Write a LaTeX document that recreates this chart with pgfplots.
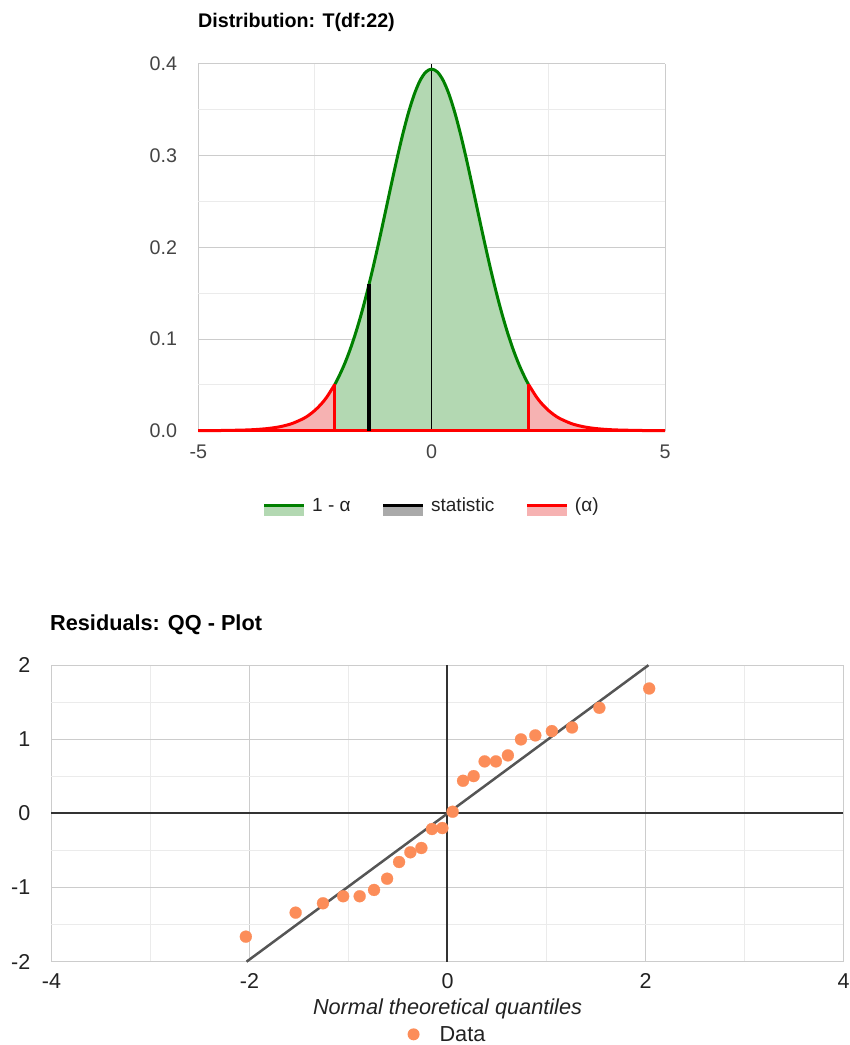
\documentclass[border=0pt]{standalone}
\usepackage{fontspec}
\setmainfont{Liberation Sans}
\usepackage{pgfplots}
\pgfplotsset{compat=1.18}
\definecolor{gline}{RGB}{0,128,0}
\definecolor{gfill}{RGB}{179,216,178}
\definecolor{rline}{RGB}{255,0,0}
\definecolor{rfill}{RGB}{246,178,178}
\definecolor{kfill}{RGB}{170,170,170}
\definecolor{gridmaj}{RGB}{204,204,204}
\definecolor{gridmin}{RGB}{235,235,235}
\definecolor{c444}{RGB}{68,68,68}
\definecolor{c222}{RGB}{34,34,34}
\definecolor{c333}{RGB}{51,51,51}
\definecolor{qqline}{RGB}{85,85,85}
\definecolor{qqorange}{RGB}{252,141,89}
\begin{document}
\begin{tikzpicture}
\useasboundingbox (0pt,0pt) rectangle (850pt,1045pt);
% titles
\node[anchor=base west, inner sep=0pt, font=\bfseries\fontsize{19.7}{23}\selectfont] at (198pt,1017pt) {Distribution: T(df:22)};
\node[anchor=base west, inner sep=0pt, font=\bfseries\fontsize{21.7}{25}\selectfont] at (50pt,414.3pt) {Residuals: QQ - Plot};

% ---------- top: t distribution ----------
\begin{axis}[
  at={(198.3pt,614.3pt)}, anchor=south west,
  scale only axis, width=466.7pt, height=366.7pt,
  xmin=-5, xmax=5, ymin=0, ymax=0.4,
  xtick={-5,0,5}, minor xtick={-2.5,2.5},
  ytick={0,0.1,0.2,0.3,0.4}, minor ytick={0.05,0.15,0.25,0.35},
  grid=both,
  major grid style={draw=gridmaj, line width=1pt},
  minor grid style={draw=gridmin, line width=1pt},
  axis line style={draw=none},
  major tick length=0pt, minor tick length=0pt,
  clip=false,
  /pgf/number format/assume math mode=true,
  tick label style={font=\fontsize{19.7}{23}\selectfont, text=c444},
  yticklabel={\pgfmathprintnumber[fixed,fixed zerofill,precision=1]{\tick}},
  yticklabel style={anchor=east, inner sep=0pt, xshift=-21pt},
  xticklabel style={anchor=center, inner sep=0pt, yshift=-21pt},
  legend columns=3,
  legend style={at={(axis description cs:0.5,-0.2045)}, anchor=center, draw=none, fill=none,
    font=\fontsize{19}{22}\selectfont, text=c222,
    /tikz/every even column/.append style={column sep=29pt}},
]
\addlegendimage{legend image code/.code={\fill[gfill, draw=none] (0pt,-10pt) rectangle (40pt,-1.5pt); \draw[gline, line width=3pt] (0pt,0pt) -- (40pt,0pt); \path[draw=none] (40pt,0pt) -- (46pt,0pt);}}
\addlegendentry{1 - α}
\addlegendimage{legend image code/.code={\fill[kfill, draw=none] (0pt,-10pt) rectangle (40pt,-1.5pt); \draw[black, line width=3pt] (0pt,0pt) -- (40pt,0pt); \path[draw=none] (40pt,0pt) -- (46pt,0pt);}}
\addlegendentry{statistic}
\addlegendimage{legend image code/.code={\fill[rfill, draw=none] (0pt,-10pt) rectangle (40pt,-1.5pt); \draw[rline, line width=3pt] (0pt,0pt) -- (40pt,0pt); \path[draw=none] (40pt,0pt) -- (46pt,0pt);}}
\addlegendentry{(α)}

% green area
\addplot[forget plot, draw=none, fill=gfill] coordinates {
(-2.074,0.05059) (-2.000,0.05777) (-1.875,0.07171) (-1.750,0.08811) (-1.625,0.10712)
(-1.500,0.12872) (-1.375,0.15284) (-1.250,0.17918) (-1.125,0.20730) (-1.000,0.23658)
(-0.875,0.26616) (-0.750,0.29505) (-0.625,0.32217) (-0.500,0.34637) (-0.375,0.36657)
(-0.250,0.38178) (-0.125,0.39123) (0,0.39444) (0.125,0.39123) (0.250,0.38178)
(0.375,0.36657) (0.500,0.34637) (0.625,0.32217) (0.750,0.29505) (0.875,0.26616)
(1.000,0.23658) (1.125,0.20730) (1.250,0.17918) (1.375,0.15284) (1.500,0.12872)
(1.625,0.10712) (1.750,0.08811) (1.875,0.07171) (2.000,0.05777) (2.074,0.05059)
} \closedcycle;
% red areas
\addplot[forget plot, draw=none, fill=rfill] coordinates {
(-5,0.00006) (-4.5,0.00022) (-4,0.00074) (-3.75,0.00134) (-3.5,0.00243) (-3.25,0.00434)
(-3,0.00764) (-2.75,0.01319) (-2.625,0.01718) (-2.5,0.02224) (-2.375,0.02858)
(-2.25,0.03644) (-2.074,0.05059)
} \closedcycle;
\addplot[forget plot, draw=none, fill=rfill] coordinates {
(2.074,0.05059) (2.25,0.03644) (2.375,0.02858) (2.5,0.02224) (2.625,0.01718)
(2.75,0.01319) (3,0.00764) (3.25,0.00434) (3.5,0.00243) (3.75,0.00134) (4,0.00074)
(4.5,0.00022) (5,0.00006)
} \closedcycle;
% x = 0 baseline
\addplot[forget plot, black, line width=1pt] coordinates {(0,0) (0,0.4)};
% green curve
\addplot[forget plot, gline, line width=3pt, smooth] coordinates {
(-2.074,0.05059) (-2.000,0.05777) (-1.875,0.07171) (-1.750,0.08811) (-1.625,0.10712)
(-1.500,0.12872) (-1.375,0.15284) (-1.250,0.17918) (-1.125,0.20730) (-1.000,0.23658)
(-0.875,0.26616) (-0.750,0.29505) (-0.625,0.32217) (-0.500,0.34637) (-0.375,0.36657)
(-0.250,0.38178) (-0.125,0.39123) (0,0.39444) (0.125,0.39123) (0.250,0.38178)
(0.375,0.36657) (0.500,0.34637) (0.625,0.32217) (0.750,0.29505) (0.875,0.26616)
(1.000,0.23658) (1.125,0.20730) (1.250,0.17918) (1.375,0.15284) (1.500,0.12872)
(1.625,0.10712) (1.750,0.08811) (1.875,0.07171) (2.000,0.05777) (2.074,0.05059)
};
% red baseline and tails
\addplot[forget plot, rline, line width=3pt] coordinates {(-5,0) (5,0)};
\addplot[forget plot, rline, line width=3pt, smooth] coordinates {
(-5,0.00006) (-4.5,0.00022) (-4,0.00074) (-3.75,0.00134) (-3.5,0.00243) (-3.25,0.00434)
(-3,0.00764) (-2.75,0.01319) (-2.625,0.01718) (-2.5,0.02224) (-2.375,0.02858)
(-2.25,0.03644) (-2.074,0.05059)
};
\addplot[forget plot, rline, line width=3pt, smooth] coordinates {
(2.074,0.05059) (2.25,0.03644) (2.375,0.02858) (2.5,0.02224) (2.625,0.01718)
(2.75,0.01319) (3,0.00764) (3.25,0.00434) (3.5,0.00243) (3.75,0.00134) (4,0.00074)
(4.5,0.00022) (5,0.00006)
};
\addplot[forget plot, rline, line width=3pt] coordinates {(-2.074,0) (-2.074,0.05059)};
\addplot[forget plot, rline, line width=3pt] coordinates {(2.074,0) (2.074,0.05059)};
% statistic
\addplot[forget plot, black, line width=4pt] coordinates {(-1.344,0) (-1.344,0.16)};
\end{axis}

% ---------- bottom: QQ plot ----------
\begin{axis}[
  at={(51.5pt,83.3pt)}, anchor=south west,
  scale only axis, width=792pt, height=296.5pt,
  xmin=-4, xmax=4, ymin=-2, ymax=2,
  xtick={-4,-2,0,2,4}, minor xtick={-3,-1,1,3},
  ytick={-2,-1,0,1,2}, minor ytick={-1.5,-0.5,0.5,1.5},
  grid=both,
  major grid style={draw=gridmaj, line width=1pt},
  minor grid style={draw=gridmin, line width=1pt},
  axis line style={draw=none},
  major tick length=0pt, minor tick length=0pt,
  clip=false,
  /pgf/number format/assume math mode=true,
  tick label style={font=\fontsize{21.5}{25}\selectfont, text=c222},
  yticklabel style={anchor=east, inner sep=0pt, xshift=-21pt},
  xticklabel style={anchor=center, inner sep=0pt, yshift=-19pt},
  xlabel={Normal theoretical quantiles},
  xlabel style={at={(axis description cs:0.5,-0.1595)}, anchor=center, inner sep=0pt,
    font=\itshape\fontsize{21.7}{25}\selectfont, text=c222},
  legend style={at={(axis description cs:0.5,-0.245)}, anchor=center, draw=none, fill=none,
    font=\fontsize{21.7}{25}\selectfont, text=c222, nodes={inner ysep=0.5pt}},
]
\addplot[forget plot, c333, line width=2pt] coordinates {(-4,0) (4,0)};
\addplot[forget plot, c333, line width=2pt] coordinates {(0,-2) (0,2)};
\addplot[forget plot, qqline, line width=2.5pt] coordinates {(-2.03,-2) (2.03,2)};
\addplot[color=qqorange, only marks, mark=*, mark size=6pt,
  mark options={draw=qqorange, fill=qqorange, line width=0.2pt},
  legend image code/.code={\fill[qqorange, draw=none] (6pt,0pt) circle (6pt); \path[draw=none] (0pt,0pt) -- (30pt,0pt);}]
  table {
x y
-2.037 -1.662
-1.534 -1.338
-1.258 -1.212
-1.054 -1.117
-0.887 -1.117
-0.742 -1.032
-0.610 -0.880
-0.489 -0.655
-0.375 -0.524
-0.264 -0.466
-0.157 -0.210
-0.052 -0.197
0.052 0.023
0.157 0.441
0.264 0.504
0.375 0.702
0.489 0.702
0.610 0.783
0.742 0.999
0.887 1.053
1.054 1.111
1.258 1.160
1.534 1.425
2.037 1.686
};
\addlegendentry{Data}
\end{axis}
\end{tikzpicture}
\end{document}
